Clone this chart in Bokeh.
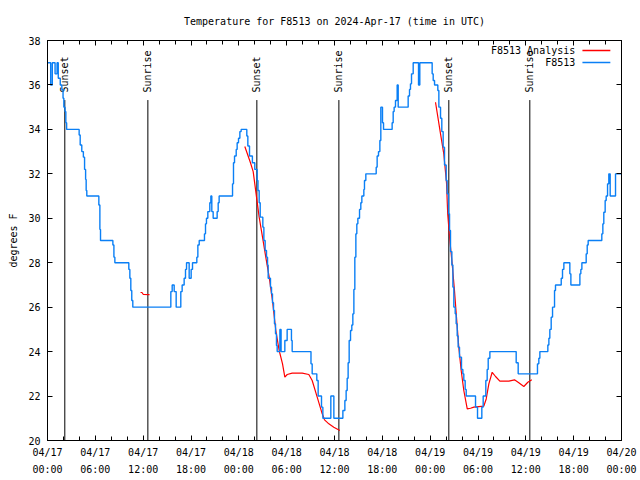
import math
from bokeh.plotting import figure
from bokeh.models import FixedTicker, LinearAxis, Range1d
from bokeh.embed import file_html
from bokeh.resources import INLINE
from bokeh.core.properties import value

# ---------------- data (hours since 2024-04-17 00:00 UTC, degrees F) ----------------
obs_hours = [0.00, 0.40, 0.60, 0.95, 1.20, 1.35, 1.60, 1.80, 1.95, 2.05, 2.20, 2.30, 2.40,
             3.97, 4.10, 4.30, 4.50, 4.65, 4.78, 4.85, 4.93, 6.44, 6.57, 6.65, 8.20, 8.33, 8.45,
             10.20, 10.33, 10.45, 10.57, 10.70, 15.47, 15.64, 15.89, 16.14, 16.72, 16.89, 17.14,
             17.31, 17.44, 17.77, 18.02, 18.19, 18.73, 18.86, 19.03, 19.69, 19.82, 19.94, 20.11,
             20.36, 20.49, 20.61, 20.78, 21.28, 21.41, 21.53, 23.21, 23.33, 23.46, 23.67, 23.79,
             23.96, 24.13, 24.29, 25.00, 25.13, 25.34, 25.70, 26.00, 26.30, 26.40, 26.55, 26.68,
             27.01, 27.14, 27.30, 27.47, 27.60, 27.68, 27.97, 28.10, 28.22, 28.35, 28.47, 28.60,
             28.72, 28.81, 29.15, 29.30, 29.77, 30.06, 30.60, 30.69, 33.05, 33.20, 33.78, 33.95,
             34.37, 34.54, 35.54, 35.92, 37.05, 37.30, 37.46, 37.59, 37.71, 37.84, 38.01, 38.17,
             38.30, 38.43, 38.55, 38.68, 38.80, 38.93, 39.14, 39.30, 39.43, 39.68, 39.76, 39.93,
             41.23, 41.35, 41.52, 41.69, 41.81, 42.02, 42.15, 43.23, 43.36, 43.48, 43.65, 43.86,
             43.99, 45.24, 45.41, 45.53, 45.66, 45.87, 46.54, 46.70, 48.25, 48.38, 48.55, 48.96,
             49.09, 49.30, 49.46, 49.63, 49.80, 50.01, 50.13, 50.30, 50.43, 50.55, 50.72, 50.85,
             50.97, 51.14, 51.26, 51.39, 51.51, 51.68, 51.93, 52.10, 52.22, 52.39, 52.52, 53.69,
             53.94, 54.48, 54.65, 54.98, 55.15, 55.28, 55.49, 58.79, 59.04, 61.46, 61.63, 61.76,
             62.76, 62.89, 63.01, 63.18, 63.35, 63.60, 63.72, 64.44, 64.60, 64.77, 65.52, 65.65,
             66.78, 66.90, 67.03, 67.57, 67.70, 67.82, 69.53, 69.66, 69.78, 69.95, 70.08, 70.25,
             70.41, 70.58, 71.25, 72.00]
obs_temps = [37.0, 36.0, 37.0, 36.5, 37.0, 36.3, 36.0, 35.8, 35.4, 35.0, 34.8, 34.3, 34.0,
             33.75, 33.3, 33.0, 32.75, 32.2, 31.75, 31.25, 31.0, 30.6, 29.5, 29.0, 28.8, 28.25, 28.0,
             27.7, 27.3, 26.75, 26.3, 26.0, 26.7, 27.0, 26.7, 26.0, 26.7, 27.0, 27.3,
             27.7, 28.0, 27.3, 27.7, 28.0, 28.25, 28.8, 29.0, 29.3, 29.75, 30.0, 30.3,
             30.7, 31.0, 30.3, 30.0, 30.3, 30.7, 31.0, 31.55, 32.5, 32.8, 33.1, 33.4,
             33.6, 33.9, 34.0, 33.7, 33.25, 32.8, 32.5, 32.2, 31.7, 31.25, 30.7, 30.05,
             29.6, 29.0, 28.55, 28.25, 27.9, 27.3, 26.9, 26.6, 26.2, 25.85, 25.25, 24.8,
             24.27, 24.0, 25.0, 24.0, 24.5, 25.0, 24.5, 24.0, 23.45, 23.0, 22.7, 22.0,
             21.5, 21.0, 22.0, 21.0, 21.35, 21.8, 22.25, 22.8, 23.5, 24.5, 24.95, 25.2,
             25.7, 26.8, 28.25, 29.3, 29.75, 30.0, 30.4, 30.7, 31.0, 31.3, 31.7, 32.0,
             32.3, 32.8, 33.0, 33.5, 35.0, 34.3, 34.0, 34.3, 34.8, 35.0, 35.3, 36.0,
             35.0, 35.5, 35.8, 36.05, 36.5, 37.0, 36.0, 37.0, 36.5, 36.2, 36.0, 35.75,
             35.0, 34.5, 33.9, 33.2, 32.4, 31.7, 31.1, 30.2, 29.45, 28.5, 27.9, 26.9,
             26.0, 25.7, 25.25, 24.7, 24.2, 23.75, 23.2, 23.0, 22.7, 22.3, 22.0, 21.5,
             21.0, 21.5, 22.0, 22.7, 23.2, 23.7, 24.0, 23.5, 23.0, 23.45, 23.7, 24.0,
             24.3, 24.6, 25.0, 25.55, 26.0, 26.75, 27.0, 27.3, 27.7, 28.0, 27.5, 27.0,
             27.5, 27.7, 28.0, 28.4, 28.8, 29.0, 29.3, 29.75, 30.27, 30.8, 31.0, 31.55,
             32.0, 31.0, 32.0, 32.0]

nan = float("nan")
ana_hours = [11.67, 11.85, 12.00, 12.80, nan,
             24.75, 25.46, 25.80, 26.22, 26.55, 26.97, 27.38, 27.81, 28.22, 28.64, 29.06,
             29.48, 29.77, 30.07, 30.69, 31.95, 32.78, 33.20, 33.83, 34.46, 34.75, 35.29,
             35.91, 36.67, nan,
             48.67, 49.30, 49.71, 50.05, 50.20, 50.47, 50.76, 51.05, 51.30, 51.59, 51.89,
             52.22, 52.65, 53.06, 53.48, 54.73, 55.03, 55.36, 55.78, 56.20, 56.74, 57.87,
             58.58, 59.12, 59.75, 60.25, 60.75]
ana_temps = [26.66, 26.66, 26.58, 26.56, nan,
             33.23, 32.5, 32.1, 30.95, 30.05, 29.15, 28.25, 27.35, 26.3, 24.95, 24.05,
             23.45, 22.85, 22.97, 23.03, 23.03, 22.97, 22.7, 21.95, 21.2, 20.93, 20.75,
             20.6, 20.45, nan,
             35.22, 33.8, 32.9, 31.6, 30.2, 29.0, 27.95, 26.75, 25.55, 24.2, 23.15,
             22.25, 21.42, 21.45, 21.5, 21.55, 21.87, 22.55, 23.07, 22.88, 22.67, 22.67,
             22.73, 22.6, 22.43, 22.62, 22.73]

sun_hours = [2.17, 12.59, 26.26, 36.55, 50.34, 60.50]
sun_labels = ["Sunset", "Sunrise", "Sunset", "Sunrise", "Sunset", "Sunrise"]

x_tick_hours = [0, 6, 12, 18, 24, 30, 36, 42, 48, 54, 60, 66, 72]
x_tick_labels = ["04/17\n00:00", "04/17\n06:00", "04/17\n12:00", "04/17\n18:00",
                 "04/18\n00:00", "04/18\n06:00", "04/18\n12:00", "04/18\n18:00",
                 "04/19\n00:00", "04/19\n06:00", "04/19\n12:00", "04/19\n18:00",
                 "04/20\n00:00"]
x_minor_hours = list(range(0, 73, 2))
y_ticks = [20, 22, 24, 26, 28, 30, 32, 34, 36, 38]

legend_labels = ["F8513 Analysis", "F8513"]
series_colors = ["#ff0000", "#0a7ff5"]

TITLE = "Temperature for F8513 on 2024-Apr-17 (time in UTC)"
FONT = "DejaVu Sans Mono"
FS = "10px"

# ---------------- figure ----------------
p = figure(frame_width=574, frame_height=400, x_range=Range1d(0, 72), y_range=Range1d(20, 38),
           output_backend="svg", toolbar_location=None,
           min_border_left=47, min_border_right=19, min_border_top=40, min_border_bottom=30,
           title=TITLE)
p.title.align = "center"
p.title.text_font = FONT
p.title.text_font_size = FS
p.title.text_font_style = "normal"
p.title.text_color = "black"
p.title.standoff = 27
p.grid.visible = False
p.outline_line_color = "black"
p.outline_line_width = 1
p.background_fill_color = "white"
p.border_fill_color = "white"

xt = FixedTicker(ticks=x_tick_hours, minor_ticks=x_minor_hours)
yt = FixedTicker(ticks=y_ticks, minor_ticks=[])


def style_axis(ax):
    ax.axis_line_color = "black"
    ax.major_tick_in = 5
    ax.major_tick_out = 0
    ax.minor_tick_in = 4
    ax.minor_tick_out = 0
    ax.major_tick_line_color = "black"
    ax.minor_tick_line_color = "black"
    ax.major_label_text_font = FONT
    ax.major_label_text_font_size = FS
    ax.major_label_text_color = "black"
    ax.axis_label_text_font = FONT
    ax.axis_label_text_font_size = FS
    ax.axis_label_text_font_style = "normal"
    ax.axis_label_text_color = "black"


xa = p.xaxis[0]
xa.ticker = xt
xa.major_label_overrides = {h: lab for h, lab in zip(x_tick_hours, x_tick_labels)}
style_axis(xa)
xa.major_label_standoff = 6
xa.major_label_text_line_height = 1.6

ya = p.yaxis[0]
ya.ticker = yt
style_axis(ya)
ya.major_label_standoff = 7
ya.axis_label = "degrees F"
ya.axis_label_standoff = 6

# mirrored tick marks (no labels) on top and right
top = LinearAxis(ticker=xt)
style_axis(top)
top.major_label_overrides = {h: "" for h in x_tick_hours}
top.major_label_standoff = 0
p.add_layout(top, "above")

right = LinearAxis(ticker=yt)
style_axis(right)
right.major_label_overrides = {t: "" for t in y_ticks}
right.major_label_standoff = 0
p.add_layout(right, "right")

# sunrise / sunset markers
line_top = 35.32
text_base = 35.66
p.segment(x0=sun_hours, y0=[20] * len(sun_hours), x1=sun_hours, y1=[line_top] * len(sun_hours),
          line_color="black", line_width=1)
p.text(x=sun_hours, y=[text_base] * len(sun_hours), text=sun_labels, angle=math.pi / 2,
       text_align="left", text_baseline="middle", text_font=value(FONT),
       text_font_size=value(FS), text_color="black")

# analysis (red) then observations (blue step)
p.line(ana_hours, ana_temps, line_color=series_colors[0], line_width=1.2)
p.step(obs_hours, obs_temps, mode="after", line_color=series_colors[1], line_width=1.4)

# legend (text left of sample line, like the original)
leg_y = [37.55, 37.01]
leg_text_x = 66.2
leg_line_x0, leg_line_x1 = 67.1, 70.6
p.text(x=[leg_text_x] * 2, y=leg_y, text=legend_labels, text_align="right",
       text_baseline="middle", text_font=value(FONT), text_font_size=value(FS),
       text_color="black")
p.segment(x0=[leg_line_x0] * 2, y0=leg_y, x1=[leg_line_x1] * 2, y1=leg_y,
          line_color=series_colors, line_width=1.4)

open("out.html", "w").write(file_html(p, INLINE))
